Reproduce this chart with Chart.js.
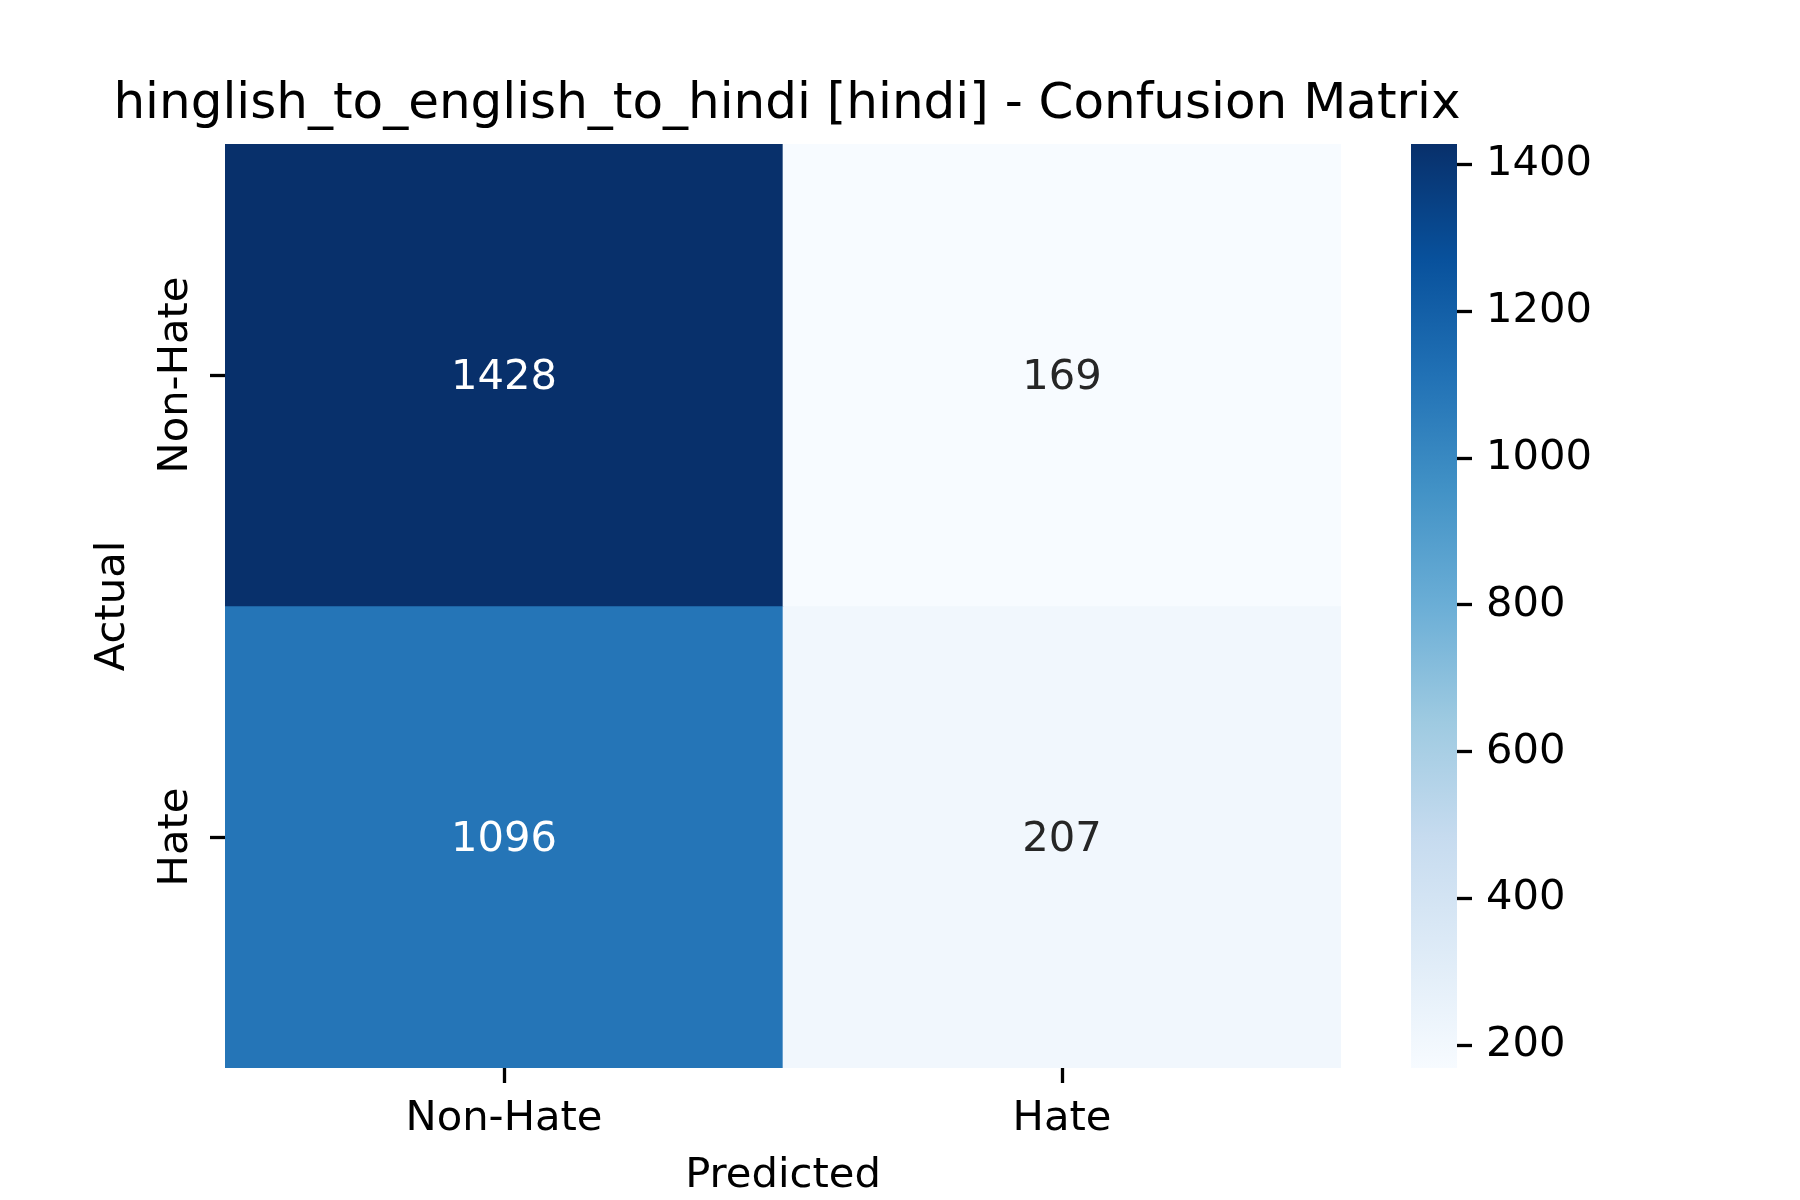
<!DOCTYPE html>
<html>
<head>
<meta charset="utf-8">
<title>Confusion Matrix</title>
<script src="https://cdn.jsdelivr.net/npm/chart.js@4.4.1/dist/chart.umd.min.js"></script>
<style>
    body { margin: 0; background: #ffffff; }
    #wrap { position: relative; width: 1800px; height: 1200px; background: #ffffff; }
    #matrix { position: absolute; left: 0; top: 0; }
    #colorbar { position: absolute; left: 1380px; top: 0; }
</style>
</head>
<body>
<div id="wrap">
    <canvas id="matrix" width="1574" height="1200"></canvas>
    <canvas id="colorbar" width="420" height="1200"></canvas>
</div>
<script>
// DATA
const chartTitle = 'hinglish_to_english_to_hindi [hindi] - Confusion Matrix';
const predictedLabels = ['Non-Hate', 'Hate'];
const actualLabels = ['Non-Hate', 'Hate'];
const nonHateRow = [1428, 169];
const hateRow = [1096, 207];
const colorbarTicks = [200, 400, 600, 800, 1000, 1200, 1400];

const rows = [nonHateRow, hateRow];
const allValues = nonHateRow.concat(hateRow);
const vmin = Math.min.apply(null, allValues);
const vmax = Math.max.apply(null, allValues);

// matplotlib "Blues"
const bluesStops = ['#f7fbff', '#deebf7', '#c6dbef', '#9ecae1', '#6baed6',
    '#4292c6', '#2171b5', '#08519c', '#08306b'];

function hexToRgb(h) {
    return [parseInt(h.substr(1, 2), 16), parseInt(h.substr(3, 2), 16), parseInt(h.substr(5, 2), 16)];
}

function blues(v) {
    let t = (v - vmin) / (vmax - vmin);
    t = Math.max(0, Math.min(1, t));
    const pos = t * (bluesStops.length - 1);
    const i = Math.min(Math.floor(pos), bluesStops.length - 2);
    const f = pos - i;
    const a = hexToRgb(bluesStops[i]);
    const b = hexToRgb(bluesStops[i + 1]);
    const c = a.map(function (x, k) { return Math.round(x + (b[k] - x) * f); });
    return 'rgb(' + c[0] + ',' + c[1] + ',' + c[2] + ')';
}

// same rule as seaborn: white text on dark cells
function textColorFor(v) {
    const c = blues(v).match(/\d+/g).map(Number).map(function (x) {
        x = x / 255;
        return x <= 0.03928 ? x / 12.92 : Math.pow((x + 0.055) / 1.055, 2.4);
    });
    const lum = 0.2126 * c[0] + 0.7152 * c[1] + 0.0722 * c[2];
    return lum > 0.408 ? '#262626' : '#ffffff';
}

const FONT = "'DejaVu Sans', sans-serif";
const labelSize = 41.7;

Chart.defaults.font.family = FONT;
Chart.defaults.color = '#000000';

// rotated y labels: centre them by hand via the tick padding
const mctx = document.createElement('canvas').getContext('2d');
mctx.font = labelSize + 'px ' + FONT;
const widestY = Math.max.apply(null, actualLabels.map(function (s) { return mctx.measureText(s).width; }));
const yTickPadding = 33.4 - widestY / 2;

// one dataset per actual row, floating bars fill a full cell
const datasets = rows.map(function (row, r) {
    return {
        label: actualLabels[r],
        data: row.map(function () { return [r, r + 1]; }),
        counts: row,
        backgroundColor: row.map(blues),
        borderWidth: 0,
        barPercentage: 1,
        categoryPercentage: 1
    };
});

// cell annotations
const cellText = {
    id: 'cellText',
    afterDatasetsDraw(chart) {
        const ctx = chart.ctx;
        ctx.save();
        ctx.font = labelSize + 'px ' + FONT;
        ctx.textAlign = 'center';
        ctx.textBaseline = 'middle';
        chart.data.datasets.forEach(function (ds, i) {
            chart.getDatasetMeta(i).data.forEach(function (bar, j) {
                const v = ds.counts[j];
                ctx.fillStyle = textColorFor(v);
                ctx.fillText(String(v), bar.x, (bar.y + bar.base) / 2 + 3);
            });
        });
        ctx.restore();
    }
};

const tickGrid = {
    display: true,
    drawOnChartArea: false,
    drawTicks: true,
    offset: false,
    tickLength: 15,
    tickWidth: 3.3,
    tickColor: '#000000'
};

new Chart(document.getElementById('matrix'), {
    type: 'bar',
    data: { labels: predictedLabels, datasets: datasets },
    options: {
        responsive: false,
        animation: false,
        devicePixelRatio: 1,
        layout: { padding: 0 },
        plugins: {
            legend: { display: false },
            tooltip: { enabled: false },
            title: {
                display: true,
                text: chartTitle,
                color: '#000000',
                font: { size: 50, weight: 'normal' },
                padding: { top: 75, bottom: 9 }
            }
        },
        scales: {
            x: {
                stacked: true,
                grid: tickGrid,
                border: { display: false },
                ticks: { font: { size: labelSize }, padding: 11, color: '#000000' },
                title: {
                    display: true,
                    text: 'Predicted',
                    font: { size: labelSize },
                    padding: { top: 0, bottom: -1 }
                },
                afterFit: function (scale) { scale.height = 132; }
            },
            y: {
                type: 'linear',
                min: 0,
                max: rows.length,
                reverse: true,
                stacked: false,
                grid: tickGrid,
                border: { display: false },
                afterBuildTicks: function (scale) {
                    scale.ticks = actualLabels.map(function (_, i) { return { value: i + 0.5 }; });
                },
                ticks: {
                    font: { size: labelSize },
                    color: '#000000',
                    minRotation: 90,
                    maxRotation: 90,
                    crossAlign: 'center',
                    padding: yTickPadding,
                    autoSkip: false,
                    callback: function (value, index) { return actualLabels[index]; }
                },
                title: {
                    display: true,
                    text: 'Actual',
                    font: { size: labelSize },
                    padding: { top: 88.6, bottom: 0 }
                },
                afterFit: function (scale) { scale.width = 225; }
            },
            // empty right axis, only keeps room so the title centres over the cells
            spacer: {
                type: 'linear',
                position: 'right',
                display: true,
                grid: { display: false },
                border: { display: false },
                ticks: { display: false },
                afterFit: function (scale) { scale.width = 233; }
            }
        }
    },
    plugins: [cellText]
});

// COLORBAR
new Chart(document.getElementById('colorbar'), {
    type: 'bar',
    data: {
        labels: [''],
        datasets: [{
            data: [[vmin, vmax]],
            borderWidth: 0,
            barPercentage: 1,
            categoryPercentage: 1,
            backgroundColor: function (context) {
                const chart = context.chart;
                if (!chart.chartArea) {
                    return bluesStops[4];
                }
                const y = chart.scales.y;
                const g = chart.ctx.createLinearGradient(0, y.getPixelForValue(vmin), 0, y.getPixelForValue(vmax));
                bluesStops.forEach(function (c, i) {
                    g.addColorStop(i / (bluesStops.length - 1), c);
                });
                return g;
            }
        }]
    },
    options: {
        responsive: false,
        animation: false,
        devicePixelRatio: 1,
        layout: { padding: { left: 31, right: 0, top: 144, bottom: 132 } },
        plugins: {
            legend: { display: false },
            tooltip: { enabled: false }
        },
        scales: {
            x: { display: false },
            y: {
                position: 'right',
                type: 'linear',
                min: vmin,
                max: vmax,
                grid: tickGrid,
                border: { display: false },
                afterBuildTicks: function (scale) {
                    scale.ticks = colorbarTicks.map(function (v) { return { value: v }; });
                },
                ticks: {
                    font: { size: labelSize },
                    color: '#000000',
                    padding: 14,
                    autoSkip: false,
                    callback: function (value) { return String(value); }
                },
                afterFit: function (scale) { scale.width = 343; }
            }
        }
    }
});
</script>
</body>
</html>
